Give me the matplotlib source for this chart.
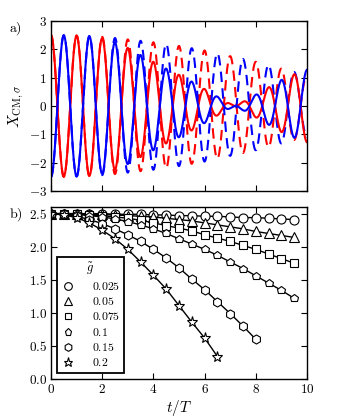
import numpy as np
import matplotlib
matplotlib.use("Agg")
import matplotlib.pyplot as plt
from matplotlib.lines import Line2D

plt.rcParams['mathtext.fontset'] = 'cm'
plt.rcParams['font.family'] = 'serif'
plt.rcParams['font.serif'] = ['DejaVu Serif']

# panel a: oscillation envelopes read at every extremum (t = 0, 0.5, ..., 10)
t_ext = np.arange(0, 10.01, 0.5)
amp_solid = [2.50, 2.49, 2.48, 2.46, 2.40, 2.25, 2.05, 1.80, 1.56, 1.32, 1.10,
             0.86, 0.60, 0.33, 0.08, -0.15, -0.40, -0.66, -0.92, -1.12, -1.28]
amp_dashed = [2.50, 2.50, 2.49, 2.47, 2.44, 2.40, 2.35, 2.30, 2.25, 2.19, 2.12,
              2.04, 1.96, 1.86, 1.76, 1.66, 1.56, 1.45, 1.32, 1.20, 1.08]

# panel b: amplitude vs time for each g
g_labels = ['0.025', '0.05', '0.075', '0.1', '0.15', '0.2']
g_markers = ['o', '^', 's', 'p', 'h', '*']
amp_g = [
    [2.50, 2.50, 2.50, 2.50, 2.50, 2.49, 2.49, 2.49, 2.48, 2.48, 2.47, 2.47,
     2.46, 2.46, 2.45, 2.44, 2.44, 2.43, 2.42, 2.41],
    [2.50, 2.50, 2.50, 2.49, 2.49, 2.48, 2.47, 2.46, 2.45, 2.43, 2.41, 2.39,
     2.36, 2.33, 2.30, 2.27, 2.23, 2.20, 2.17, 2.14],
    [2.50, 2.50, 2.49, 2.48, 2.47, 2.45, 2.43, 2.40, 2.36, 2.32, 2.28, 2.24,
     2.18, 2.13, 2.08, 2.02, 1.96, 1.89, 1.82, 1.75],
    [2.50, 2.50, 2.49, 2.47, 2.45, 2.42, 2.38, 2.33, 2.27, 2.20, 2.12, 2.04,
     1.96, 1.87, 1.77, 1.67, 1.56, 1.45, 1.34, 1.22],
    [2.50, 2.49, 2.46, 2.41, 2.35, 2.27, 2.18, 2.08, 1.96, 1.83, 1.68, 1.51,
     1.35, 1.17, 0.99, 0.80, 0.60],
    [2.50, 2.48, 2.44, 2.36, 2.25, 2.12, 1.96, 1.77, 1.57, 1.36, 1.11, 0.86,
     0.62, 0.34],
]
marker_size = {'o': 6.5, '^': 6.5, 's': 5.5, 'p': 6.2, 'h': 6.5, '*': 8}

fig = plt.figure(figsize=(3.41, 4.2), dpi=100)
ax1 = fig.add_axes([0.1496, 0.5452, 0.7507, 0.4048])
ax2 = fig.add_axes([0.1496, 0.0976, 0.7507, 0.4095])

# oscillations: envelope times cos, one period per T
t = np.linspace(0, 10, 2000)
env_s = np.interp(t, t_ext, amp_solid)
env_d = np.interp(t, t_ext, amp_dashed)
osc = np.cos(2 * np.pi * t)
ax1.plot(t, env_d * osc, color='red', lw=1.5, dashes=(5, 3))
ax1.plot(t, -env_d * osc, color='blue', lw=1.5, dashes=(5, 3))
ax1.plot(t, env_s * osc, color='red', lw=1.5)
ax1.plot(t, -env_s * osc, color='blue', lw=1.5)
ax1.set_xlim(0, 10)
ax1.set_ylim(-3, 3)
ax1.set_xticks(range(0, 11, 2))
ax1.set_xticklabels([])
ax1.set_yticks(range(-3, 4))
ax1.set_yticklabels(['$%d$' % v for v in range(-3, 4)])
ax1.set_ylabel(r'$X_{\rm CM,\sigma}$', fontsize=11, labelpad=2)

handles = []
for vals, mk, lab in zip(amp_g, g_markers, g_labels):
    tt = t_ext[:len(vals)]
    ms = marker_size[mk]
    ax2.plot(tt, vals, color='black', lw=1, marker=mk, ms=ms,
             mfc='white', mec='black', mew=0.8)
    handles.append(Line2D([], [], ls='none', marker=mk, ms=ms * 0.85,
                          mfc='white', mec='black', mew=0.8, label='$%s$' % lab))
ax2.set_xlim(0, 10)
ax2.set_ylim(0, 2.6)
ax2.set_xticks(range(0, 11, 2))
ax2.set_xticklabels(['$%d$' % v for v in range(0, 11, 2)])
yt = np.arange(0, 2.51, 0.5)
ax2.set_yticks(yt)
ax2.set_yticklabels(['$%.1f$' % v for v in yt])
ax2.set_xlabel('$t/T$', fontsize=11, labelpad=1)

leg = ax2.legend(handles=handles, title=r'$\tilde{g}$', loc='lower left',
                 bbox_to_anchor=(0.022, 0.035), fontsize=8.5, title_fontsize=9,
                 fancybox=False, framealpha=1, edgecolor='black',
                 handlelength=1.4, handletextpad=1.3, labelspacing=0.2,
                 borderpad=0.3, borderaxespad=0)
leg.get_frame().set_linewidth(1.3)

for ax in (ax1, ax2):
    ax.tick_params(direction='in', top=True, right=True, length=4,
                   width=0.8, labelsize=9.5, pad=3)
    for s in ax.spines.values():
        s.set_linewidth(1)

fig.text(0.025, 0.925, r'$\mathrm{a)}$', fontsize=10)
fig.text(0.025, 0.482, r'$\mathrm{b)}$', fontsize=10)

fig.savefig('out.png', dpi=100)
